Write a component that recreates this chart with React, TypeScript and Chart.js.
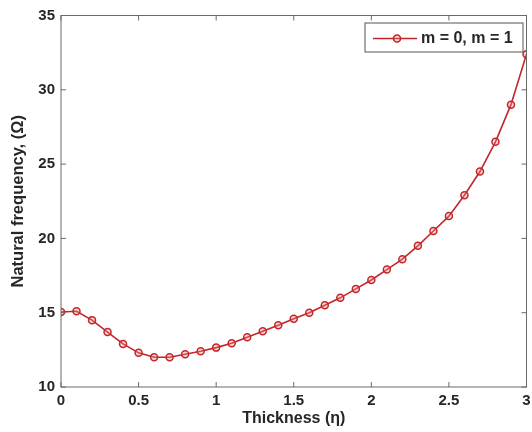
import React, { useEffect, useRef } from "react";
import { Chart, registerables } from "chart.js";

Chart.register(...registerables);

const thickness = [0, 0.1, 0.2, 0.3, 0.4, 0.5, 0.6, 0.7, 0.8, 0.9, 1.0, 1.1, 1.2, 1.3, 1.4, 1.5, 1.6, 1.7, 1.8, 1.9, 2.0, 2.1, 2.2, 2.3, 2.4, 2.5, 2.6, 2.7, 2.8, 2.9, 3.0];
const frequency = [15.05, 15.1, 14.5, 13.7, 12.9, 12.3, 12.0, 12.0, 12.2, 12.4, 12.65, 12.95, 13.35, 13.75, 14.15, 14.6, 15.0, 15.5, 16.0, 16.6, 17.2, 17.9, 18.6, 19.5, 20.5, 21.5, 22.9, 24.5, 26.5, 29.0, 32.4];
const seriesLabel = "m = 0, m = 1";
const xTitle = "Thickness (\u03b7)";
const yTitle = "Natural frequency, (\u03a9)";
const xTicks = [0, 0.5, 1, 1.5, 2, 2.5, 3];
const yTicks = [10, 15, 20, 25, 30, 35];

const FONT = "'Liberation Sans', Arial, Helvetica, sans-serif";
const LINE = "#c42528";
const MARK_FILL = "rgba(235,140,140,0.35)";
const AXIS = "#6a6a6a";
const TEXT = "#262626";

const boxPlugin = {
  id: "matlabBox",
  afterDraw(chart: any) {
    const { ctx, chartArea: a, scales } = chart;
    ctx.save();
    ctx.strokeStyle = AXIS;
    ctx.lineWidth = 1;
    ctx.strokeRect(a.left, a.top, a.right - a.left, a.bottom - a.top);
    const tl = 5;
    ctx.beginPath();
    for (const v of xTicks) {
      const px = scales.x.getPixelForValue(v);
      ctx.moveTo(px, a.bottom);
      ctx.lineTo(px, a.bottom - tl);
      ctx.moveTo(px, a.top);
      ctx.lineTo(px, a.top + tl);
    }
    for (const v of yTicks) {
      const py = scales.y.getPixelForValue(v);
      ctx.moveTo(a.left, py);
      ctx.lineTo(a.left + tl, py);
      ctx.moveTo(a.right, py);
      ctx.lineTo(a.right - tl, py);
    }
    ctx.stroke();

    // legend
    const bx = 365, by = 23, bw = 158, bh = 29;
    ctx.fillStyle = "#fff";
    ctx.fillRect(bx, by, bw, bh);
    ctx.strokeStyle = "#555";
    ctx.strokeRect(bx, by, bw, bh);
    const cy = by + bh / 2 + 1;
    ctx.strokeStyle = LINE;
    ctx.lineWidth = 1.6;
    ctx.beginPath();
    ctx.moveTo(bx + 8, cy);
    ctx.lineTo(bx + 52, cy);
    ctx.stroke();
    ctx.beginPath();
    ctx.arc(bx + 32, cy, 3.5, 0, Math.PI * 2);
    ctx.fillStyle = MARK_FILL;
    ctx.fill();
    ctx.stroke();
    ctx.fillStyle = TEXT;
    ctx.font = `bold 16px ${FONT}`;
    ctx.textBaseline = "middle";
    ctx.textAlign = "left";
    ctx.fillText(chart.data.datasets[0].label, bx + 56, cy);
    ctx.restore();
  },
};

export default function App() {
  const ref = useRef<HTMLCanvasElement>(null);
  useEffect(() => {
    document.body.style.margin = "0";
    const chart = new Chart(ref.current!, {
      type: "line",
      data: {
        datasets: [
          {
            label: seriesLabel,
            data: thickness.map((x, i) => ({ x, y: frequency[i] })),
            borderColor: LINE,
            borderWidth: 1.6,
            pointRadius: 3.5,
            pointBorderWidth: 1.5,
            pointBorderColor: LINE,
            pointBackgroundColor: MARK_FILL,
            tension: 0,
          },
        ],
      },
      options: {
        animation: false,
        responsive: false,
        events: [],
        layout: { padding: { left: 0, top: 15.5, right: 1.5, bottom: 0 } },
        plugins: { legend: { display: false }, tooltip: { enabled: false } },
        scales: {
          x: {
            type: "linear",
            min: 0,
            max: 3,
            afterFit(scale: any) {
              scale.height = 45;
              scale.paddingLeft = 0;
              scale.paddingRight = 0;
            },
            afterBuildTicks(scale: any) {
              scale.ticks = xTicks.map((v) => ({ value: v }));
            },
            grid: { display: false, drawTicks: false },
            border: { display: false },
            ticks: {
              padding: 5,
              color: TEXT,
              font: { family: FONT, size: 15, weight: "bold" },
              maxRotation: 0,
              autoSkip: false,
              callback: (v: any) => String(v),
            },
            title: {
              display: true,
              text: xTitle,
              color: TEXT,
              font: { family: FONT, size: 16, weight: "bold" },
              padding: { top: 0, bottom: 4 },
            },
          },
          y: {
            min: 10,
            max: 35,
            afterFit(scale: any) {
              scale.width = 61;
              scale.paddingTop = 0;
              scale.paddingBottom = 0;
            },
            afterBuildTicks(scale: any) {
              scale.ticks = yTicks.map((v) => ({ value: v }));
            },
            grid: { display: false, drawTicks: false },
            border: { display: false },
            ticks: {
              padding: 6,
              color: TEXT,
              font: { family: FONT, size: 15, weight: "bold" },
              autoSkip: false,
              callback: (v: any) => String(v),
            },
            title: {
              display: true,
              text: yTitle,
              color: TEXT,
              font: { family: FONT, size: 16.5, weight: "bold" },
              padding: { top: 9, bottom: 0 },
            },
          },
        },
      },
      plugins: [boxPlugin],
    });
    return () => chart.destroy();
  }, []);
  return (
    <div style={{ position: "absolute", left: 0, top: 0, width: 532, height: 432, background: "#fff" }}>
      <canvas ref={ref} width={532} height={432} style={{ width: 532, height: 432, display: "block" }} />
    </div>
  );
}
